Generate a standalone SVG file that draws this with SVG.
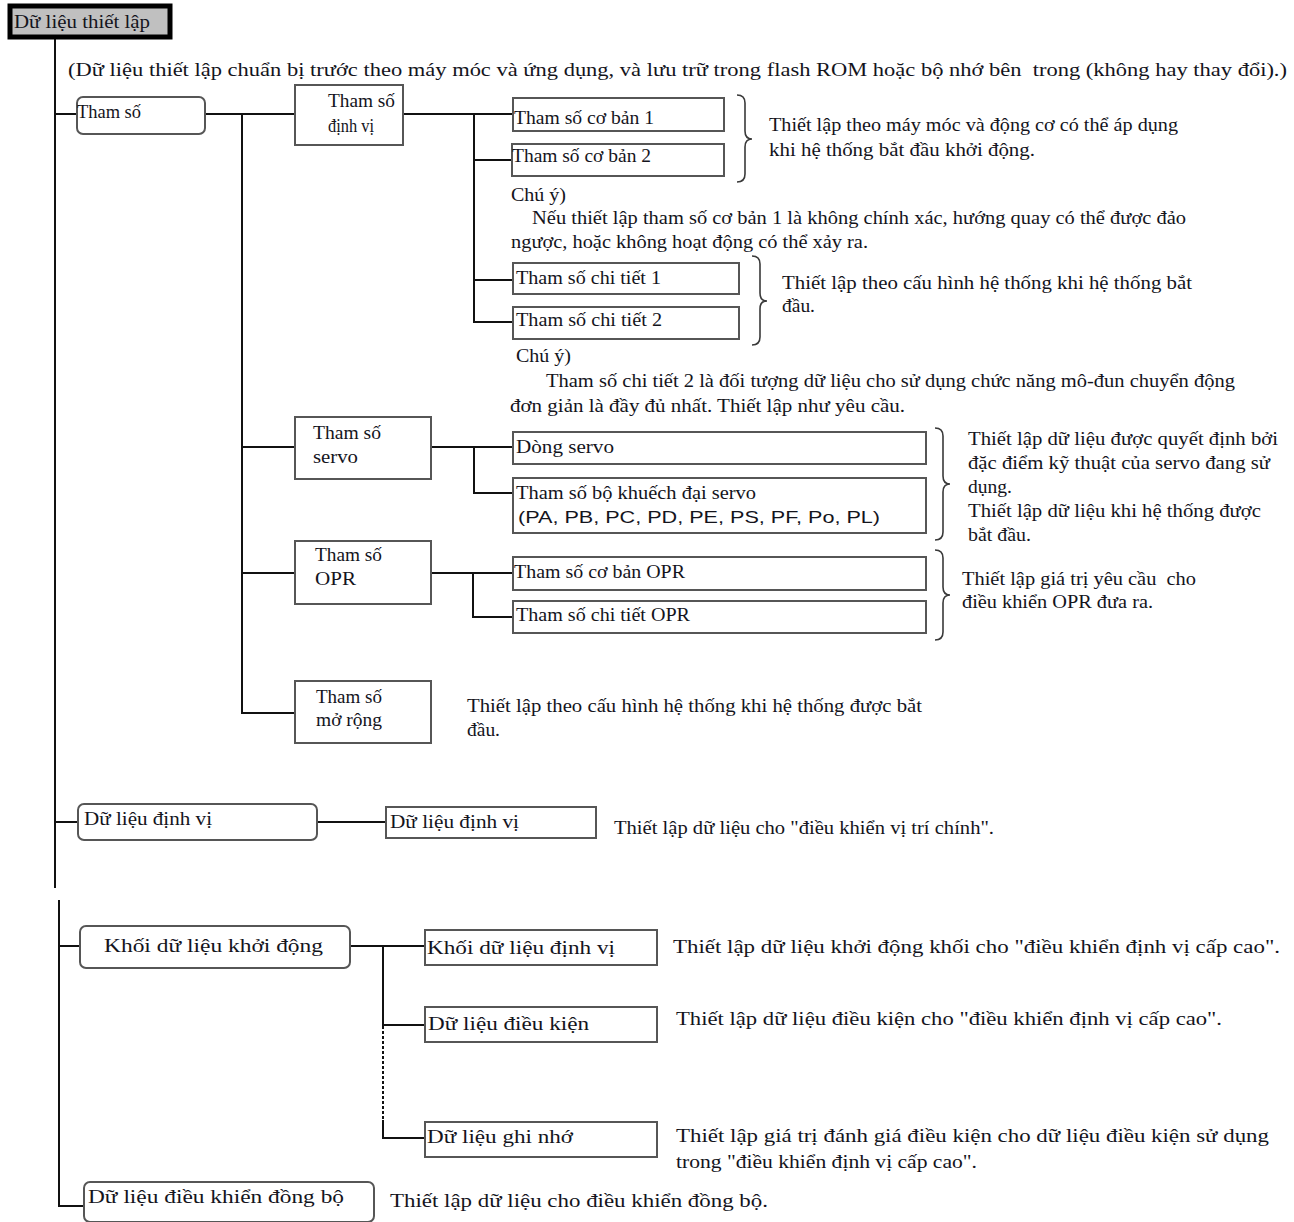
<svg xmlns="http://www.w3.org/2000/svg" width="1294" height="1222" viewBox="0 0 1294 1222">
  <style>
    .t { font-family: "Liberation Serif", "Times New Roman", serif; font-size: 18px; fill: #14141c; white-space: pre; }
    .tl { font-family: "Liberation Serif", "Times New Roman", serif; font-size: 19px; fill: #14141c; white-space: pre; }
    .ts { font-family: "Liberation Sans", Arial, sans-serif; font-size: 17px; fill: #14141c; }
    .box { fill: #ffffff; stroke: #565656; stroke-width: 2; }
    .rbox { fill: #ffffff; stroke: #565656; stroke-width: 2; }
    .ln { fill: none; stroke: #111111; stroke-width: 2; }
    .dash { fill: none; stroke: #111111; stroke-width: 2; stroke-dasharray: 3 2; }
    .brace { fill: none; stroke: #3a3a3a; stroke-width: 1.6; }
  </style>

  <!-- connectors -->
  <g id="connectors">
    <!-- main trunk -->
    <path class="ln" d="M55 38 V888"/>
    <path class="ln" d="M59 900 V1206 H84"/>
    <path class="ln" d="M55 114 H77"/>
    <path class="ln" d="M55 822 H78"/>
    <path class="ln" d="M59 946 H80"/>
    <!-- parameters -->
    <path class="ln" d="M205 114 H295"/>
    <path class="ln" d="M242 114 V713 H295"/>
    <path class="ln" d="M242 447 H295"/>
    <path class="ln" d="M242 573 H295"/>
    <!-- positioning parameters -->
    <path class="ln" d="M403 114 H513"/>
    <path class="ln" d="M474 114 V322 H513"/>
    <path class="ln" d="M474 160 H512"/>
    <path class="ln" d="M474 280 H513"/>
    <!-- servo parameters -->
    <path class="ln" d="M431 447 H513"/>
    <path class="ln" d="M474 447 V493 H513"/>
    <!-- OPR parameters -->
    <path class="ln" d="M431 573 H513"/>
    <path class="ln" d="M473 573 V617 H513"/>
    <!-- positioning data -->
    <path class="ln" d="M317 822 H386"/>
    <!-- start block data -->
    <path class="ln" d="M350 946 H425"/>
    <path class="ln" d="M383 946 V1026"/>
    <path class="ln" d="M383 1025 H425"/>
    <path class="dash" d="M383 1026 V1120"/>
    <path class="ln" d="M383 1120 V1138 H425"/>
  </g>

  <!-- braces -->
  <g id="braces">
    <path class="brace" d="M737 95 Q745 95 745 103 L745 131 Q745 139 752 139 Q745 139 745 147 L745 174 Q745 182 737 182"/>
    <path class="brace" d="M752 256 Q760 256 760 264 L760 293 Q760 301 767 301 Q760 301 760 309 L760 337 Q760 345 752 345"/>
    <path class="brace" d="M935 428 Q943 428 943 436 L943 476 Q943 484 950 484 Q943 484 943 492 L943 532 Q943 540 935 540"/>
    <path class="brace" d="M935 550 Q943 550 943 558 L943 587 Q943 595 950 595 Q943 595 943 603 L943 632 Q943 640 935 640"/>
  </g>

  <!-- root -->
  <g id="root">
    <rect x="10" y="6" width="160" height="31" fill="#c0c0c0" stroke="#000000" stroke-width="5"/>
    <text class="t" x="14" y="28" textLength="136" lengthAdjust="spacingAndGlyphs">Dữ liệu thiết lập</text>
    <text class="t" x="68" y="76" textLength="1219" lengthAdjust="spacingAndGlyphs">(Dữ liệu thiết lập chuẩn bị trước theo máy móc và ứng dụng, và lưu trữ trong flash ROM hoặc bộ nhớ bên  trong (không hay thay đổi).)</text>
  </g>

  <g id="tham-so">
    <rect class="rbox" x="77" y="97" width="128" height="37" rx="6"/>
    <text class="t" x="77" y="118" textLength="64" lengthAdjust="spacingAndGlyphs">Tham số</text>
  </g>

  <g id="tham-so-dinh-vi">
    <rect class="box" x="295" y="85" width="108" height="60"/>
    <text class="t" x="328" y="107" textLength="67" lengthAdjust="spacingAndGlyphs">Tham số</text>
    <text class="t" x="328" y="132" textLength="46" lengthAdjust="spacingAndGlyphs">định vị</text>
  </g>

  <g id="co-ban-1">
    <rect class="box" x="513" y="98" width="211" height="33"/>
    <text class="t" x="514" y="124" textLength="140" lengthAdjust="spacingAndGlyphs">Tham số cơ bản 1</text>
  </g>
  <g id="co-ban-2">
    <rect class="box" x="512" y="144" width="212" height="32"/>
    <text class="t" x="512" y="162" textLength="139" lengthAdjust="spacingAndGlyphs">Tham số cơ bản 2</text>
  </g>
  <g id="co-ban-note">
    <text class="t" x="769" y="131" textLength="409" lengthAdjust="spacingAndGlyphs">Thiết lập theo máy móc và động cơ có thể áp dụng</text>
    <text class="t" x="769" y="156" textLength="266" lengthAdjust="spacingAndGlyphs">khi hệ thống bắt đầu khởi động.</text>
    <text class="t" x="511" y="201" textLength="55" lengthAdjust="spacingAndGlyphs">Chú ý)</text>
    <text class="t" x="532" y="224" textLength="654" lengthAdjust="spacingAndGlyphs">Nếu thiết lập tham số cơ bản 1 là không chính xác, hướng quay có thể được đảo</text>
    <text class="t" x="511" y="248" textLength="357" lengthAdjust="spacingAndGlyphs">ngược, hoặc không hoạt động có thể xảy ra.</text>
  </g>

  <g id="chi-tiet-1">
    <rect class="box" x="513" y="263" width="226" height="31"/>
    <text class="t" x="516" y="284" textLength="145" lengthAdjust="spacingAndGlyphs">Tham số chi tiết 1</text>
  </g>
  <g id="chi-tiet-2">
    <rect class="box" x="513" y="307" width="226" height="32"/>
    <text class="t" x="516" y="326" textLength="146" lengthAdjust="spacingAndGlyphs">Tham số chi tiết 2</text>
  </g>
  <g id="chi-tiet-note">
    <text class="t" x="782" y="289" textLength="410" lengthAdjust="spacingAndGlyphs">Thiết lập theo cấu hình hệ thống khi hệ thống bắt</text>
    <text class="t" x="782" y="312" textLength="33" lengthAdjust="spacingAndGlyphs">đầu.</text>
    <text class="t" x="516" y="362" textLength="55" lengthAdjust="spacingAndGlyphs">Chú ý)</text>
    <text class="t" x="546" y="387" textLength="689" lengthAdjust="spacingAndGlyphs">Tham số chi tiết 2 là đối tượng dữ liệu cho sử dụng chức năng mô-đun chuyển động</text>
    <text class="t" x="510" y="412" textLength="395" lengthAdjust="spacingAndGlyphs">đơn giản là đầy đủ nhất. Thiết lập như yêu cầu.</text>
  </g>

  <g id="tham-so-servo">
    <rect class="box" x="295" y="417" width="136" height="62"/>
    <text class="t" x="313" y="439" textLength="68" lengthAdjust="spacingAndGlyphs">Tham số</text>
    <text class="t" x="313" y="463" textLength="45" lengthAdjust="spacingAndGlyphs">servo</text>
  </g>
  <g id="dong-servo">
    <rect class="box" x="513" y="432" width="413" height="32"/>
    <text class="t" x="516" y="453" textLength="98" lengthAdjust="spacingAndGlyphs">Dòng servo</text>
  </g>
  <g id="servo-amp">
    <rect class="box" x="513" y="478" width="413" height="55"/>
    <text class="t" x="516" y="499" textLength="240" lengthAdjust="spacingAndGlyphs">Tham số bộ khuếch đại servo</text>
    <text class="ts" x="518" y="523" textLength="362" lengthAdjust="spacingAndGlyphs">(PA, PB, PC, PD, PE, PS, PF, Po, PL)</text>
  </g>
  <g id="servo-note">
    <text class="t" x="968" y="445" textLength="310" lengthAdjust="spacingAndGlyphs">Thiết lập dữ liệu được quyết định bởi</text>
    <text class="t" x="968" y="469" textLength="302" lengthAdjust="spacingAndGlyphs">đặc điểm kỹ thuật của servo đang sử</text>
    <text class="t" x="968" y="493" textLength="44" lengthAdjust="spacingAndGlyphs">dụng.</text>
    <text class="t" x="968" y="517" textLength="293" lengthAdjust="spacingAndGlyphs">Thiết lập dữ liệu khi hệ thống được</text>
    <text class="t" x="968" y="541" textLength="63" lengthAdjust="spacingAndGlyphs">bắt đầu.</text>
  </g>

  <g id="tham-so-opr">
    <rect class="box" x="295" y="541" width="136" height="63"/>
    <text class="t" x="315" y="561" textLength="67" lengthAdjust="spacingAndGlyphs">Tham số</text>
    <text class="t" x="315" y="585" textLength="41" lengthAdjust="spacingAndGlyphs">OPR</text>
  </g>
  <g id="opr-co-ban">
    <rect class="box" x="513" y="557" width="413" height="33"/>
    <text class="t" x="514" y="578" textLength="171" lengthAdjust="spacingAndGlyphs">Tham số cơ bản OPR</text>
  </g>
  <g id="opr-chi-tiet">
    <rect class="box" x="513" y="601" width="413" height="32"/>
    <text class="t" x="516" y="621" textLength="174" lengthAdjust="spacingAndGlyphs">Tham số chi tiết OPR</text>
  </g>
  <g id="opr-note">
    <text class="t" x="962" y="585" textLength="234" lengthAdjust="spacingAndGlyphs">Thiết lập giá trị yêu cầu  cho</text>
    <text class="t" x="962" y="608" textLength="191" lengthAdjust="spacingAndGlyphs">điều khiển OPR đưa ra.</text>
  </g>

  <g id="tham-so-mo-rong">
    <rect class="box" x="295" y="681" width="136" height="62"/>
    <text class="t" x="316" y="703" textLength="66" lengthAdjust="spacingAndGlyphs">Tham số</text>
    <text class="t" x="316" y="726" textLength="66" lengthAdjust="spacingAndGlyphs">mở rộng</text>
    <text class="t" x="467" y="712" textLength="455" lengthAdjust="spacingAndGlyphs">Thiết lập theo cấu hình hệ thống khi hệ thống được bắt</text>
    <text class="t" x="467" y="736" textLength="33" lengthAdjust="spacingAndGlyphs">đầu.</text>
  </g>

  <g id="du-lieu-dinh-vi">
    <rect class="rbox" x="78" y="804" width="239" height="36" rx="6"/>
    <text class="t" x="84" y="825" textLength="128" lengthAdjust="spacingAndGlyphs">Dữ liệu định vị</text>
  </g>
  <g id="du-lieu-dinh-vi-2">
    <rect class="box" x="386" y="807" width="210" height="31"/>
    <text class="t" x="390" y="828" textLength="129" lengthAdjust="spacingAndGlyphs">Dữ liệu định vị</text>
    <text class="t" x="614" y="834" textLength="380" lengthAdjust="spacingAndGlyphs">Thiết lập dữ liệu cho "điều khiển vị trí chính".</text>
  </g>

  <g id="khoi-du-lieu-khoi-dong">
    <rect class="rbox" x="80" y="926" width="270" height="42" rx="6"/>
    <text class="tl" x="104" y="952" textLength="219" lengthAdjust="spacingAndGlyphs">Khối dữ liệu khởi động</text>
  </g>
  <g id="khoi-du-lieu-dinh-vi">
    <rect class="box" x="425" y="930" width="232" height="35"/>
    <text class="tl" x="427" y="954" textLength="188" lengthAdjust="spacingAndGlyphs">Khối dữ liệu định vị</text>
    <text class="tl" x="673" y="953" textLength="607" lengthAdjust="spacingAndGlyphs">Thiết lập dữ liệu khởi động khối cho "điều khiển định vị cấp cao".</text>
  </g>
  <g id="du-lieu-dieu-kien">
    <rect class="box" x="425" y="1007" width="232" height="35"/>
    <text class="tl" x="428" y="1030" textLength="161" lengthAdjust="spacingAndGlyphs">Dữ liệu điều kiện</text>
    <text class="tl" x="676" y="1025" textLength="546" lengthAdjust="spacingAndGlyphs">Thiết lập dữ liệu điều kiện cho "điều khiển định vị cấp cao".</text>
  </g>
  <g id="du-lieu-ghi-nho">
    <rect class="box" x="425" y="1122" width="232" height="35"/>
    <text class="tl" x="427" y="1143" textLength="146" lengthAdjust="spacingAndGlyphs">Dữ liệu ghi nhớ</text>
    <text class="tl" x="676" y="1142" textLength="593" lengthAdjust="spacingAndGlyphs">Thiết lập giá trị đánh giá điều kiện cho dữ liệu điều kiện sử dụng</text>
    <text class="tl" x="676" y="1168" textLength="301" lengthAdjust="spacingAndGlyphs">trong "điều khiển định vị cấp cao".</text>
  </g>

  <g id="du-lieu-dong-bo">
    <rect class="rbox" x="84" y="1182" width="290" height="40" rx="6"/>
    <text class="tl" x="88" y="1203" textLength="256" lengthAdjust="spacingAndGlyphs">Dữ liệu điều khiển đồng bộ</text>
    <text class="tl" x="390" y="1207" textLength="378" lengthAdjust="spacingAndGlyphs">Thiết lập dữ liệu cho điều khiển đồng bộ.</text>
  </g>
</svg>
